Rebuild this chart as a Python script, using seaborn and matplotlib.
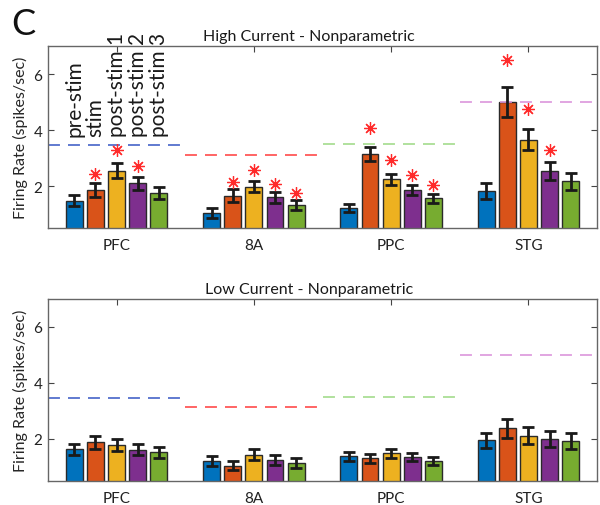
import numpy as np
import pandas as pd
import matplotlib
matplotlib.use("Agg")
import matplotlib.pyplot as plt
import seaborn as sns

regions = ["PFC", "8A", "PPC", "STG"]
periods = ["pre-stim", "stim", "post-stim 1", "post-stim 2", "post-stim 3"]
colors = ["#0072BD", "#D95319", "#EDB120", "#7E2F8E", "#77AC30"]

# High current
high_pre = [1.48, 1.04, 1.21, 1.82]
high_stim = [1.85, 1.66, 3.14, 5.00]
high_post1 = [2.55, 1.98, 2.24, 3.66]
high_post2 = [2.10, 1.60, 1.85, 2.54]
high_post3 = [1.75, 1.33, 1.57, 2.17]
high_err_pre = [0.19, 0.17, 0.14, 0.27]
high_err_stim = [0.24, 0.23, 0.25, 0.53]
high_err_post1 = [0.26, 0.20, 0.19, 0.39]
high_err_post2 = [0.23, 0.20, 0.18, 0.32]
high_err_post3 = [0.21, 0.18, 0.16, 0.30]
nan = np.nan
high_star_pre = [nan, nan, nan, nan]
high_star_stim = [2.42, 2.14, 4.07, 6.49]
high_star_post1 = [3.30, 2.57, 2.92, 4.74]
high_star_post2 = [2.71, 2.07, 2.38, 3.30]
high_star_post3 = [nan, 1.75, 2.04, nan]

# Low current
low_pre = [1.62, 1.20, 1.37, 1.94]
low_stim = [1.88, 1.04, 1.31, 2.37]
low_post1 = [1.78, 1.43, 1.48, 2.11]
low_post2 = [1.61, 1.24, 1.35, 1.99]
low_post3 = [1.51, 1.13, 1.21, 1.93]
low_err_pre = [0.21, 0.19, 0.16, 0.28]
low_err_stim = [0.23, 0.17, 0.16, 0.33]
low_err_post1 = [0.21, 0.20, 0.17, 0.30]
low_err_post2 = [0.20, 0.18, 0.15, 0.29]
low_err_post3 = [0.20, 0.18, 0.15, 0.28]

# Baseline thresholds (dashed lines)
thresholds = [3.45, 3.12, 3.50, 5.00]
threshold_colors = ["#4563c8", "#ff4a4a", "#a3db8c", "#dc96dc"]

sns.set_theme(style="white")
FONT = ["Lato", "DejaVu Sans"]
plt.rcParams["font.family"] = FONT
plt.rcParams["lines.scale_dashes"] = False

fig = plt.figure(figsize=(6.0, 5.06), dpi=100)
ax_top = fig.add_axes([0.080, 0.5474, 0.915, 0.3597])
ax_bot = fig.add_axes([0.080, 0.0480, 0.915, 0.3591])

def make_df(means):
    rows = []
    for p, vals in zip(periods, means):
        for r, v in zip(regions, vals):
            rows.append({"region": r, "period": p, "rate": v})
    return pd.DataFrame(rows)

def draw(ax, means, errs, stars, title):
    df = make_df(means)
    sns.barplot(data=df, x="region", y="rate", hue="period", order=regions,
                hue_order=periods, palette=colors, width=0.77, gap=0.2,
                edgecolor="#2a2a2a", linewidth=1.0, errorbar=None,
                legend=False, ax=ax, saturation=1)
    for cont, e_list, s_list in zip(ax.containers, errs, stars):
        for bar, e, s in zip(cont.patches, e_list, s_list):
            xc = bar.get_x() + bar.get_width() / 2
            h = bar.get_height()
            ax.errorbar(xc, h, yerr=e, fmt="none", ecolor="#1a1a1a",
                        elinewidth=2.0, capsize=4.0, capthick=2.0, zorder=5)
            if s is not None and not np.isnan(s):
                ax.plot(xc, s, marker=(8, 2, 0), color="#ff2a2a",
                        markersize=9, markeredgewidth=0.9, zorder=6)
    ticks = ax.get_xticks()
    for t, thr, c in zip(ticks, thresholds, threshold_colors):
        ax.hlines(thr, t - 0.5, t + 0.48, colors=c, linewidth=1.2,
                  linestyles=(0, (8.6, 5.8)), zorder=1)
    ax.set_xlim(-0.5, 3.5)
    ax.set_ylim(0.5, 7)
    ax.set_yticks([2, 4, 6])
    ax.set_xlabel("")
    ax.set_ylabel("Firing Rate (spikes/sec)", fontsize=11.5, labelpad=4)
    ax.tick_params(axis="both", direction="in", top=True, right=True,
                   bottom=True, left=True, length=4, width=0.8,
                   color="#444444", labelsize=11, labelcolor="#222222")
    ax.tick_params(axis="x", pad=7.5)
    ax.tick_params(axis="y", pad=4)
    for sp in ax.spines.values():
        sp.set_color("#666666")
        sp.set_linewidth(1.0)
    ax.text(0.475, 1.018, title, transform=ax.transAxes, ha="center",
            va="bottom", fontsize=11.5, color="#1a1a1a")

draw(ax_top,
     [high_pre, high_stim, high_post1, high_post2, high_post3],
     [high_err_pre, high_err_stim, high_err_post1, high_err_post2, high_err_post3],
     [high_star_pre, high_star_stim, high_star_post1, high_star_post2, high_star_post3],
     "High Current - Nonparametric")
draw(ax_bot,
     [low_pre, low_stim, low_post1, low_post2, low_post3],
     [low_err_pre, low_err_stim, low_err_post1, low_err_post2, low_err_post3],
     [[nan] * 4] * 5,
     "Low Current - Nonparametric")

# Period labels above the first group
for cont, label in zip(ax_top.containers, periods):
    bar = cont.patches[0]
    xc = bar.get_x() + bar.get_width() / 2
    ax_top.text(xc, 3.78, label, rotation=90, ha="center", va="bottom",
                fontsize=15, color="#1a1a1a", clip_on=False)

fig.text(0.018, 0.985, "C", fontsize=26, ha="left", va="top", color="#111111")

fig.savefig("out.png", dpi=100, facecolor="white")
